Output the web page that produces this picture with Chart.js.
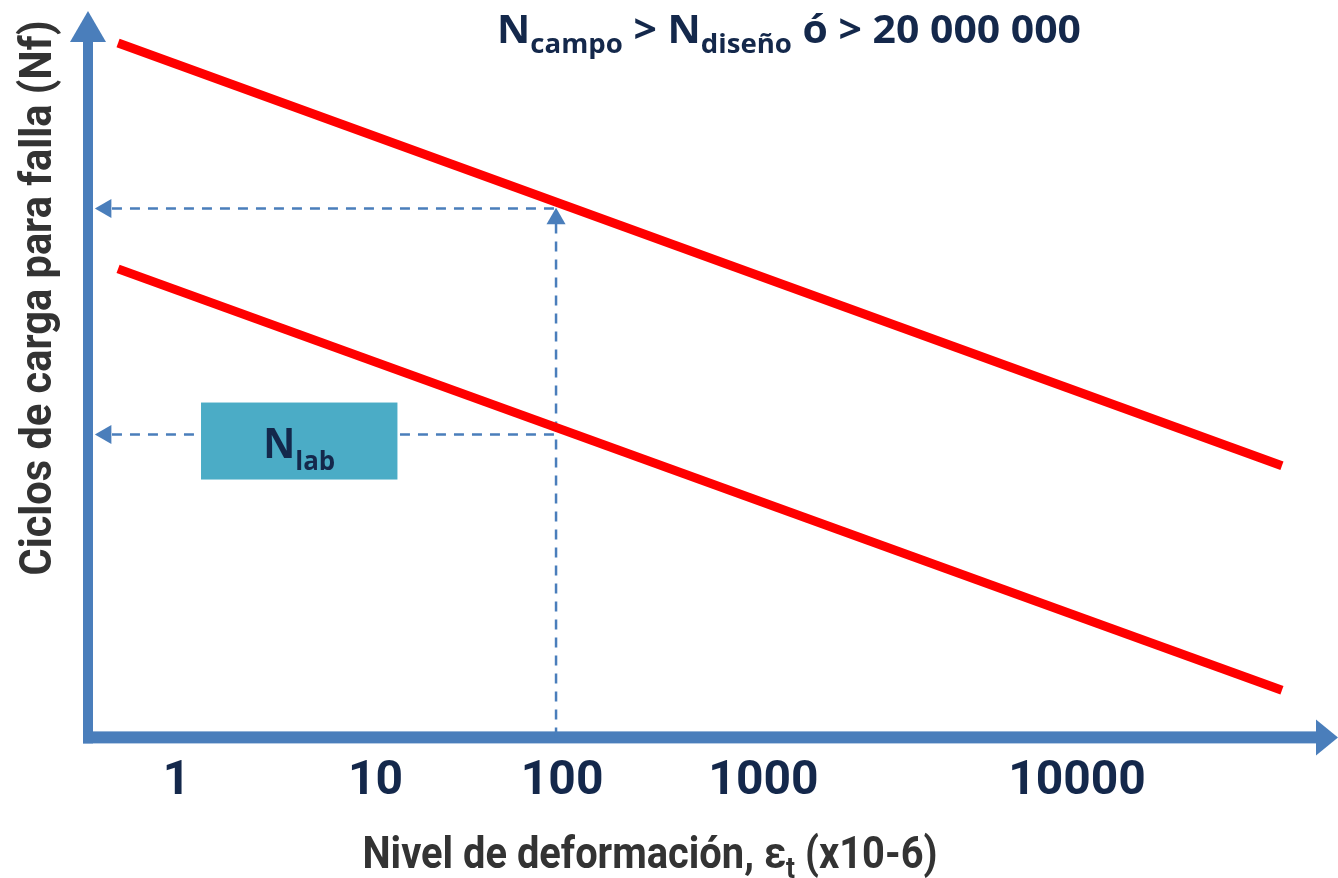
<!DOCTYPE html>
<html>
<head>
<meta charset="utf-8">
<script src="https://cdn.jsdelivr.net/npm/chart.js@4.4.0/dist/chart.umd.min.js"></script>
<style>
  html, body { margin: 0; padding: 0; background: #fff; }
  #wrap { width: 1338px; height: 878px; }
</style>
</head>
<body>
<div id="wrap"><canvas id="fatigueChart"></canvas></div>
<script>
// tick labels on the strain axis and the x position each one sits at
const tickLabels = ["1", "10", "100", "1000", "10000"];
const tickPositions = [7.1, 23.4, 38.7, 55.2, 80.9];

// the two fatigue lines (field on top, lab below)
const fieldLineX = [2.3, 97.7];
const fieldLineY = [95.6, 37.4];
const labLineX = [2.3, 97.7];
const labLineY = [64.5, 6.5];

// strain picked and the cycles
const strainPick = 38.2;
const nField = 72.8;
const nLab = 41.7;

const blue = "#4A7EBB";
const navy = "#14284B";
const grey = "#333333";

function toPoints(xs, ys) {
  return xs.map((x, i) => ({ x: x, y: ys[i] }));
}

// draws text made of normal + subscript pieces, centred on cx,
// squeezed or stretched sideways to the given width
function drawRich(ctx, parts, cx, baseline, width) {
  let total = 0;
  parts.forEach(p => {
    ctx.font = p.font;
    p.w = ctx.measureText(p.t).width;
    total += p.w;
  });
  const sx = width ? width / total : 1;
  ctx.save();
  ctx.translate(cx - total * sx / 2, baseline);
  ctx.scale(sx, 1);
  ctx.textAlign = "left";
  ctx.textBaseline = "alphabetic";
  let x = 0;
  parts.forEach(p => {
    ctx.font = p.font;
    ctx.fillText(p.t, x, p.dy || 0);
    x += p.w;
  });
  ctx.restore();
}

// axes with arrow heads, the N_lab box and all the free text
const decorPlugin = {
  id: "decor",
  beforeDatasetsDraw(chart) {
    const ctx = chart.ctx;
    const a = chart.chartArea;
    ctx.save();
    ctx.fillStyle = blue;
    // y axis
    ctx.fillRect(a.left - 7, a.top + 28, 10, a.bottom - a.top - 22);
    ctx.beginPath();
    ctx.moveTo(a.left - 2, a.top);
    ctx.lineTo(a.left - 20, a.top + 31);
    ctx.lineTo(a.left + 16, a.top + 31);
    ctx.closePath();
    ctx.fill();
    // x axis
    ctx.fillRect(a.left - 7, a.bottom - 6, a.right - a.left + 13, 12);
    ctx.beginPath();
    ctx.moveTo(a.right + 6, a.bottom - 18);
    ctx.lineTo(a.right + 28, a.bottom);
    ctx.lineTo(a.right + 6, a.bottom + 18);
    ctx.closePath();
    ctx.fill();
    ctx.restore();
  },
  afterDatasetsDraw(chart) {
    const ctx = chart.ctx;
    const xs = chart.scales.x;
    const ys = chart.scales.y;
    ctx.save();

    // N_lab box
    const bx0 = xs.getPixelForValue(9.1), bx1 = xs.getPixelForValue(25.2);
    const by0 = ys.getPixelForValue(46.1), by1 = ys.getPixelForValue(35.5);
    ctx.fillStyle = "#4BACC6";
    ctx.fillRect(bx0, by0, bx1 - bx0, by1 - by0);
    ctx.fillStyle = navy;
    drawRich(ctx, [
      { t: "N", font: "bold 41px 'Open Sans'" },
      { t: "lab", font: "bold 27px 'Open Sans'", dy: 12 }
    ], (bx0 + bx1) / 2, by0 + 55, 72);

    // heading
    drawRich(ctx, [
      { t: "N", font: "bold 40px 'Open Sans'" },
      { t: "campo", font: "bold 27px 'Open Sans'", dy: 10 },
      { t: " > N", font: "bold 40px 'Open Sans'" },
      { t: "diseño", font: "bold 27px 'Open Sans'", dy: 10 },
      { t: " ó > 20 000 000", font: "bold 40px 'Open Sans'" }
    ], 789, 43, 584);

    // y axis title
    ctx.fillStyle = grey;
    ctx.save();
    ctx.translate(51, 298);
    ctx.rotate(-Math.PI / 2);
    drawRich(ctx, [
      { t: "Ciclos de carga para falla (Nf)", font: "bold 44px Roboto" }
    ], 0, 0, 555);
    ctx.restore();

    // x axis title
    drawRich(ctx, [
      { t: "Nivel de deformación, ε", font: "bold 45px Roboto" },
      { t: "t", font: "bold 30px Roboto", dy: 10 },
      { t: " (x10-6)", font: "bold 45px Roboto" }
    ], 650, 868, 575);

    ctx.restore();
  }
};

const dash = [10, 8];

new Chart(document.getElementById("fatigueChart"), {
  type: "scatter",
  data: {
    datasets: [
      {
        label: "N campo",
        data: toPoints(fieldLineX, fieldLineY),
        showLine: true,
        borderColor: "#FF0000",
        borderWidth: 9,
        pointRadius: 0
      },
      {
        label: "N lab",
        data: toPoints(labLineX, labLineY),
        showLine: true,
        borderColor: "#FF0000",
        borderWidth: 9,
        pointRadius: 0
      },
      {
        label: "arrows",
        data: [
          { x: 1.3, y: nField },
          { x: 1.3, y: nLab },
          { x: strainPick, y: nField - 1.4 }
        ],
        pointStyle: "triangle",
        pointRadius: 11,
        rotation: [-90, -90, 0],
        backgroundColor: blue,
        borderColor: blue,
        borderWidth: 0
      },
      {
        label: "read field",
        data: [{ x: 1.8, y: nField }, { x: strainPick, y: nField }],
        showLine: true,
        borderColor: blue,
        borderWidth: 2.5,
        borderDash: dash,
        pointRadius: 0
      },
      {
        label: "read lab",
        data: [{ x: 1.8, y: nLab }, { x: strainPick, y: nLab }],
        showLine: true,
        borderColor: blue,
        borderWidth: 2.5,
        borderDash: dash,
        pointRadius: 0
      },
      {
        label: "strain",
        data: [{ x: strainPick, y: 0 }, { x: strainPick, y: nField - 1.5 }],
        showLine: true,
        borderColor: blue,
        borderWidth: 2.5,
        borderDash: dash,
        pointRadius: 0
      }
    ]
  },
  options: {
    responsive: true,
    maintainAspectRatio: false,
    animation: false,
    layout: { padding: { left: 90, right: 28, top: 10, bottom: 51 } },
    plugins: {
      legend: { display: false },
      tooltip: { enabled: false }
    },
    scales: {
      x: {
        type: "linear",
        min: 0,
        max: 100,
        afterBuildTicks: scale => {
          scale.ticks = tickPositions.map(v => ({ value: v }));
        },
        ticks: {
          callback: (value, index) => tickLabels[index],
          font: { family: "Roboto", size: 48, weight: "bold" },
          color: navy,
          padding: 16,
          autoSkip: false,
          maxRotation: 0
        },
        grid: { display: false, drawTicks: false },
        border: { display: false }
      },
      y: {
        type: "linear",
        min: 0,
        max: 100,
        display: false
      }
    }
  },
  plugins: [decorPlugin]
});
</script>
</body>
</html>
